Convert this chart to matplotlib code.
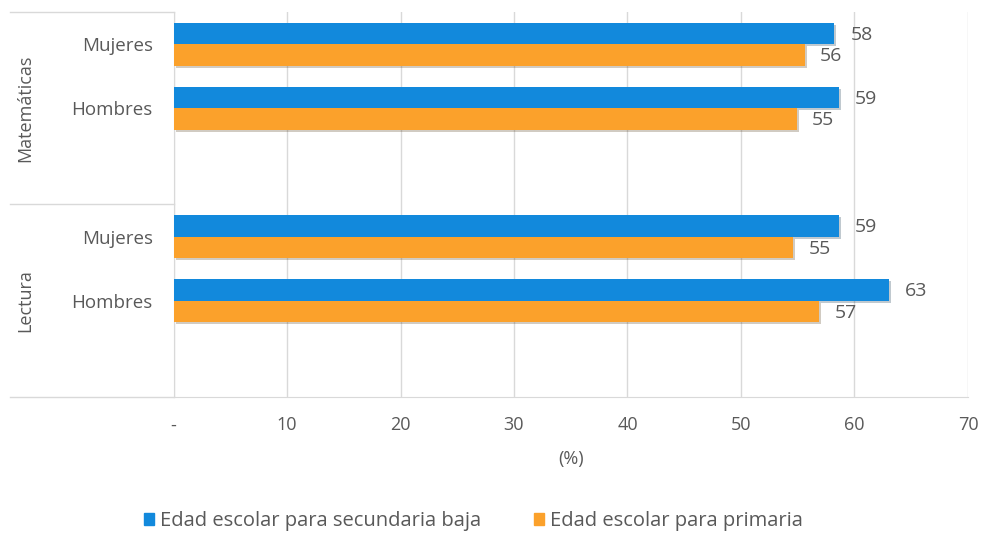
import matplotlib
matplotlib.use("Agg")
import matplotlib.pyplot as plt
import matplotlib.patheffects as pe
from matplotlib.patches import Patch

# datos
materias = ["Matemáticas", "Lectura"]
sexos = ["Mujeres", "Hombres"]
serie_names = ["Edad escolar para secundaria baja", "Edad escolar para primaria"]
secundaria = [58.2, 58.6, 58.6, 63.0]   # Mat Mujeres, Mat Hombres, Lec Mujeres, Lec Hombres
primaria = [55.6, 54.9, 54.6, 56.9]
x_ticks = [0, 10, 20, 30, 40, 50, 60, 70]
x_labels = ["-", "10", "20", "30", "40", "50", "60", "70"]

azul = "#1289DC"
naranja = "#FBA12B"
gris_txt = "#595959"
gris_lin = "#D9D9D9"

plt.rcParams["font.family"] = ["Open Sans", "DejaVu Sans"]

fig = plt.figure(figsize=(9.82, 5.34), dpi=100)
ax = fig.add_axes([0.1767, 0.2566, 0.8090, 0.7209])

# posiciones: cada materia ocupa 3 huecos (Mujeres, Hombres, vacio)
pos = []
for g in range(len(materias)):
    for s in range(len(sexos)):
        pos.append(g * 3 + s)

h = 0.335
shadow = [pe.SimplePatchShadow(offset=(1.5, -1.5), alpha=0.25), pe.Normal()]
b1 = ax.barh([p - h / 2 for p in pos], secundaria, height=h, color=azul, zorder=3)
b2 = ax.barh([p + h / 2 for p in pos], primaria, height=h, color=naranja, zorder=3)
for b in list(b1) + list(b2):
    b.set_path_effects(shadow)

for p, v in zip(pos, secundaria):
    ax.annotate(f"{v:.0f}", (v, p - h / 2), xytext=(12, -1), textcoords="offset points",
                va="center", ha="left", fontsize=14, color=gris_txt)
for p, v in zip(pos, primaria):
    ax.annotate(f"{v:.0f}", (v, p + h / 2), xytext=(11, -1), textcoords="offset points",
                va="center", ha="left", fontsize=14, color=gris_txt)

ax.set_xlim(0, 70)
ax.set_ylim(5.5, -0.5)
ax.set_xticks(x_ticks)
ax.set_xticklabels(x_labels, fontsize=13, color=gris_txt)
ax.tick_params(axis="x", length=0, pad=14)
ax.set_yticks(pos)
ax.set_yticklabels(sexos * len(materias), fontsize=13.5, color=gris_txt)
ax.tick_params(axis="y", length=0, pad=15)
ax.grid(axis="x", color=gris_lin, linewidth=1, zorder=0)
for s in ["top", "right"]:
    ax.spines[s].set_visible(False)
ax.spines["left"].set_color(gris_lin)
ax.spines["bottom"].set_color(gris_lin)
ax.spines["bottom"].set_bounds(0, 70)
ax.set_xlabel("(%)", fontsize=13, color=gris_txt, labelpad=11)

# lineas de agrupacion y etiquetas de materia
tr = ax.get_yaxis_transform()
for yy in [-0.5, 2.5, 5.5]:
    ax.plot([-0.206, 0], [yy, yy], transform=tr, color=gris_lin, lw=1, clip_on=False)
for g, m in enumerate(materias):
    ax.text(-0.187, g * 3 + 1, m, transform=tr, rotation=90, ha="center", va="center",
            fontsize=13, color=gris_txt)

handles = [Patch(color=azul), Patch(color=naranja)]
fig.legend(handles, serie_names, loc="center", bbox_to_anchor=(0.482, 0.024), ncol=2,
           frameon=False, fontsize=14.5, handlelength=0.5, handleheight=0.5,
           handletextpad=0.3, columnspacing=2.6, labelcolor=gris_txt)

fig.savefig("out.png", dpi=100)
